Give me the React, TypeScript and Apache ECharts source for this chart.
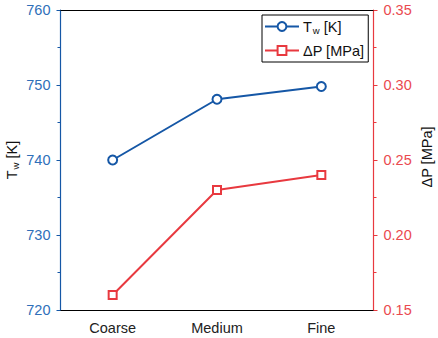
import React, { useEffect, useRef } from "react";
import * as echarts from "echarts";

const categories = ["Coarse", "Medium", "Fine"];
const twValues = [740, 748.1, 749.8];
const dpValues = [0.16, 0.23, 0.24];
const leftTicks = { min: 720, max: 760, interval: 10 };
const rightTicks = { min: 0.15, max: 0.35, interval: 0.05 };

const BLUE = "#1557a6";
const BLUE_LABEL = "#2f6fb9";
const RED = "#e8393f";
const RED_LABEL = "#ea4a4f";
const FONT = "'Liberation Sans', Arial, sans-serif";

export default function App() {
  const ref = useRef<HTMLDivElement>(null);
  useEffect(() => {
    if (!ref.current) return;
    const chart = echarts.init(ref.current, null, { renderer: "svg" });
    const grid = { left: 60.5, right: 64.5, top: 10, bottom: 28 };
    chart.setOption({
      animation: false,
      textStyle: { fontFamily: FONT },
      grid,
      legend: {
        orient: "vertical",
        left: 262,
        top: 15,
        padding: [4, 4, 4, 2],
        borderColor: "#000",
        borderWidth: 1,
        borderRadius: 0,
        itemWidth: 34,
        itemHeight: 11,
        itemGap: 8,
        data: ["Tw", "dP"],
        formatter: (name: string) =>
          name === "Tw" ? "{a|T}{s|w}{a| [K]}" : "{a|ΔP [MPa]}",
        textStyle: {
          fontFamily: FONT,
          color: "#111",
          padding: [0, 0, 0, -1],
          rich: {
            a: { fontSize: 14.5, fontFamily: FONT, color: "#111" },
            s: { fontSize: 9.5, fontFamily: FONT, color: "#111", padding: [7, 0, 0, 1] },
          },
        },
      },
      xAxis: [
        {
          type: "category",
          data: categories,
          position: "bottom",
          boundaryGap: true,
          axisLine: { lineStyle: { color: "#000", width: 1 } },
          axisTick: { alignWithLabel: true, length: 6, lineStyle: { color: "#000" } },
          axisLabel: { color: "#222", fontSize: 14.5, fontFamily: FONT, margin: 10.5 },
          splitLine: { show: false },
        },
        {
          type: "category",
          data: categories,
          position: "bottom",
          boundaryGap: true,
          axisLine: { show: false },
          axisTick: { length: 3, lineStyle: { color: "#000" } },
          axisLabel: { show: false },
        },
        {
          type: "category",
          data: categories,
          position: "top",
          boundaryGap: true,
          axisLine: { lineStyle: { color: "#000", width: 1 } },
          axisTick: { inside: true, alignWithLabel: true, length: 5, lineStyle: { color: "#000" } },
          axisLabel: { show: false },
        },
        {
          type: "category",
          data: categories,
          position: "top",
          boundaryGap: true,
          axisLine: { show: false },
          axisTick: { inside: true, length: 3, lineStyle: { color: "#000" } },
          axisLabel: { show: false },
        },
      ],
      yAxis: [
        {
          type: "value",
          position: "left",
          min: leftTicks.min,
          max: leftTicks.max,
          interval: leftTicks.interval,
          axisLine: { show: true, lineStyle: { color: BLUE, width: 1.2 } },
          axisTick: { show: true, length: 4, lineStyle: { color: BLUE } },
          minorTick: { show: true, splitNumber: 2, length: 3, lineStyle: { color: BLUE } },
          splitLine: { show: false },
          axisLabel: { color: BLUE_LABEL, fontSize: 14.5, fontFamily: FONT, margin: 10 },
        },
        {
          type: "value",
          position: "right",
          min: rightTicks.min,
          max: rightTicks.max,
          interval: rightTicks.interval,
          axisLine: { show: true, lineStyle: { color: RED, width: 1.2 } },
          axisTick: { show: true, length: 4, lineStyle: { color: RED } },
          minorTick: { show: true, splitNumber: 2, length: 3, lineStyle: { color: RED } },
          splitLine: { show: false },
          axisLabel: {
            color: RED_LABEL,
            fontSize: 14.5,
            fontFamily: FONT,
            margin: 10,
            formatter: (v: number) => v.toFixed(2),
          },
        },
      ],
      series: [
        {
          name: "Tw",
          type: "line",
          xAxisIndex: 0,
          yAxisIndex: 0,
          data: twValues,
          symbol: "emptyCircle",
          symbolSize: 9,
          lineStyle: { color: BLUE, width: 2 },
          itemStyle: { color: BLUE, borderColor: BLUE, borderWidth: 2 },
        },
        {
          name: "dP",
          type: "line",
          xAxisIndex: 0,
          yAxisIndex: 1,
          data: dpValues,
          symbol: "emptyRect",
          symbolSize: 8,
          lineStyle: { color: RED, width: 2 },
          itemStyle: { color: RED, borderColor: RED, borderWidth: 2 },
        },
      ],
      graphic: [
        {
          type: "text",
          x: 12,
          y: 160,
          rotation: Math.PI / 2,
          style: {
            text: "{a|T}{s|w}{a| [K]}",
            align: "center",
            verticalAlign: "middle",
            rich: {
              a: { fontSize: 14.5, fontFamily: FONT, fill: "#111" },
              s: { fontSize: 9.5, fontFamily: FONT, fill: "#111", padding: [7, 0, 0, 1] },
            },
          },
        },
        {
          type: "text",
          x: 427,
          y: 157,
          rotation: Math.PI / 2,
          style: {
            text: "ΔP [MPa]",
            align: "center",
            verticalAlign: "middle",
            fontSize: 14.5,
            fontFamily: FONT,
            fill: "#111",
          },
        },
      ],
    });
    return () => chart.dispose();
  }, []);
  return <div ref={ref} style={{ width: 438, height: 338, position: "absolute", left: 0, top: 0 }} />;
}
